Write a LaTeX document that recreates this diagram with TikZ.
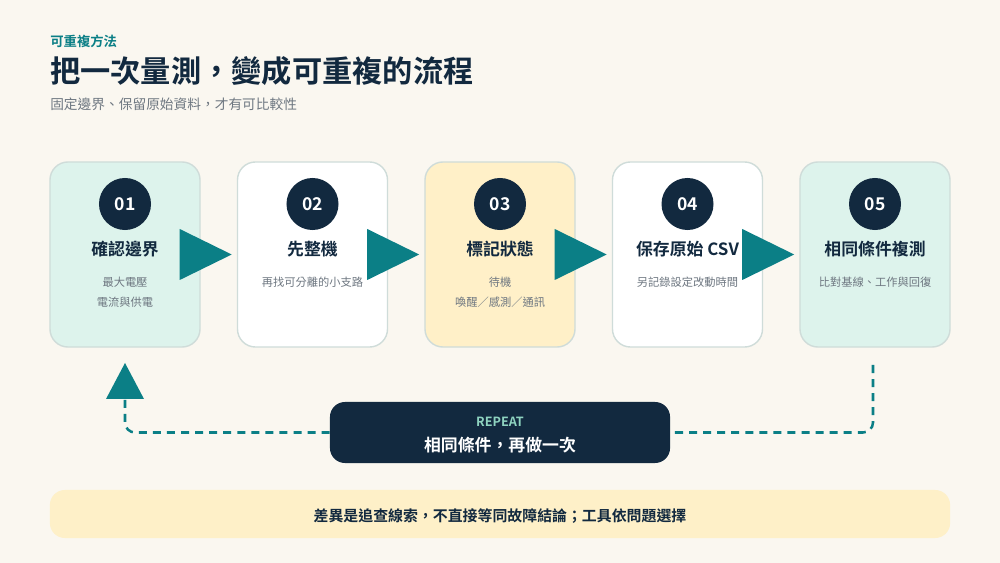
\documentclass[tikz,border=0pt]{standalone}
\usepackage{fontspec}
\setmainfont{Noto Sans CJK TC}[BoldFont={Noto Sans CJK TC Bold}]
\usetikzlibrary{calc}
\definecolor{bgcream}{HTML}{FAF7F0}
\definecolor{navy}{HTML}{12293F}
\definecolor{flowteal}{HTML}{0B7F86}
\definecolor{mintcard}{HTML}{DDF3EC}
\definecolor{sandcard}{HTML}{FFF0C8}
\definecolor{cardline}{HTML}{CFDCD9}
\definecolor{softgray}{HTML}{6E7781}
\definecolor{tagmint}{HTML}{8ED3C0}
\definecolor{notefill}{HTML}{FEF0C8}

\begin{document}
\begin{tikzpicture}[x=0.025cm,y=-0.025cm,
    card/.style={fill=#1, draw=cardline, line width=1pt, rounded corners=0.45cm, minimum width=3.75cm, minimum height=4.625cm},
    num/.style={circle, fill=navy, text=white, minimum size=1.3cm, inner sep=0pt, font=\bfseries\fontsize{12.5}{14}\selectfont},
    steptitle/.style={text=navy, inner sep=0pt, font=\bfseries\fontsize{12}{14}\selectfont},
    stepdesc/.style={anchor=north, text=softgray, inner sep=0pt, align=center, font=\fontsize{8}{14.2}\selectfont},
    flowtip/.style={fill=flowteal},
    loopline/.style={draw=flowteal, line width=1.8pt, dash pattern=on 5.7pt off 4.3pt, rounded corners=0.25cm}]
    \fill[bgcream] (0,0) rectangle (1000,563);
    % header
    \node[anchor=west, inner sep=0pt, text=flowteal, font=\bfseries\fontsize{9.5}{11}\selectfont] (kicker) at (50,41.5) {可重複方法};
    \node[anchor=west, inner sep=0pt, text=navy, font=\bfseries\fontsize{21.5}{24}\selectfont] (headline) at (50,71) {把一次量測，變成可重複的流程};
    \node[anchor=west, inner sep=0pt, text=softgray, font=\fontsize{9.75}{12}\selectfont] (subline) at (50,104) {固定邊界、保留原始資料，才有可比較性};
    % steps
    \node[card=mintcard] (c1) at (125,254.5) {};
    \node[card=white] (c2) at (312.5,254.5) {};
    \node[card=sandcard] (c3) at (500,254.5) {};
    \node[card=white] (c4) at (687.5,254.5) {};
    \node[card=mintcard] (c5) at (875,254.5) {};
    \node[num] (n1) at (125,204) {01};
    \node[num] (n2) at (312.5,204) {02};
    \node[num] (n3) at (500,204) {03};
    \node[num] (n4) at (687.5,204) {04};
    \node[num] (n5) at (875,204) {05};
    \node[steptitle] (t1) at (125,249) {確認邊界};
    \node[steptitle] (t2) at (312.5,249) {先整機};
    \node[steptitle] (t3) at (500,249) {標記狀態};
    \node[steptitle] (t4) at (687.5,249) {保存原始 CSV};
    \node[steptitle] (t5) at (875,249) {相同條件複測};
    \node[stepdesc] (d1) at (125,276.5) {最大電壓\\電流與供電};
    \node[stepdesc] (d2) at (312.5,276.5) {再找可分離的小支路};
    \node[stepdesc] (d3) at (500,276.5) {待機\\喚醒／感測／通訊};
    \node[stepdesc] (d4) at (687.5,276.5) {另記錄設定改動時間};
    \node[stepdesc] (d5) at (875,276.5) {比對基線、工作與回復};
    % arrows between steps
    \fill[flowtip] ($(c1.east)+(-21,-25.5)$) -- ++(52,25.5) -- ++(-52,25.5) -- cycle;
    \fill[flowtip] ($(c2.east)+(-21,-25.5)$) -- ++(52,25.5) -- ++(-52,25.5) -- cycle;
    \fill[flowtip] ($(c3.east)+(-21,-25.5)$) -- ++(52,25.5) -- ++(-52,25.5) -- cycle;
    \fill[flowtip] ($(c4.east)+(-21,-25.5)$) -- ++(52,25.5) -- ++(-52,25.5) -- cycle;
    % repeat loop
    \node[fill=navy, rounded corners=0.375cm, minimum width=8.5cm, minimum height=1.525cm] (rep) at (500,432.5) {};
    \node[inner sep=0pt, text=tagmint, font=\bfseries\fontsize{9}{11}\selectfont] (reptag) at (500,422) {REPEAT};
    \node[inner sep=0pt, text=white, font=\bfseries\fontsize{12}{14}\selectfont] (repmain) at (500,445) {相同條件，再做一次};
    \coordinate (back) at (873,365);
    \coordinate (up) at (125,399);
    \draw[loopline] (back) |- (rep.east);
    \draw[loopline] (rep.west) -| (up);
    \fill[flowtip] ($(up)+(-19,0)$) -- ++(38,0) -- ++(-19,-36) -- cycle;
    % note
    \node[fill=notefill, rounded corners=0.375cm, minimum width=22.5cm, minimum height=1.2cm] (note) at (500,514) {};
    \node[inner sep=0pt, text=navy, font=\bfseries\fontsize{10.6}{13}\selectfont] (notetext) at (500,516) {差異是追查線索，不直接等同故障結論；工具依問題選擇};
\end{tikzpicture}
\end{document}
